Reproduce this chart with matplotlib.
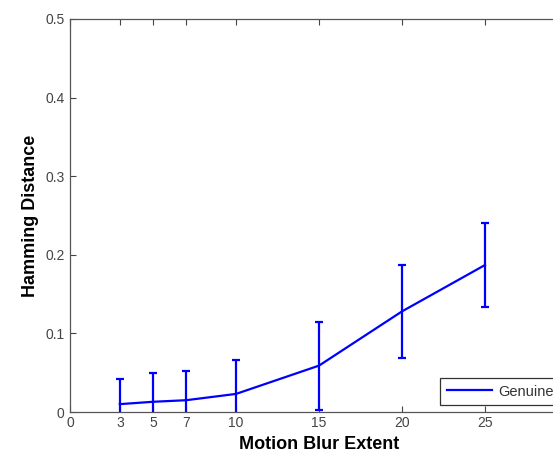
import matplotlib
matplotlib.use("Agg")
import matplotlib.pyplot as plt
from matplotlib.lines import Line2D

blur_extent = [3, 5, 7, 10, 15, 20, 25]
hamming_mean = [0.010, 0.013, 0.015, 0.023, 0.059, 0.128, 0.187]
hamming_err = [0.032, 0.037, 0.037, 0.043, 0.056, 0.059, 0.054]
x_ticks = [0, 3, 5, 7, 10, 15, 20, 25]
y_ticks = [0, 0.1, 0.2, 0.3, 0.4, 0.5]

plt.rcParams['font.family'] = ['Liberation Sans', 'DejaVu Sans']

W, H = 553, 454
fig = plt.figure(figsize=(W / 100, H / 100), dpi=100)
ax = fig.add_axes([70 / W, (H - 412) / H, 498 / W, 393 / H])

ax.errorbar(blur_extent, hamming_mean, yerr=hamming_err, color='#0000ff',
            linewidth=1.6, elinewidth=1.6, capsize=3, capthick=1.6)

ax.set_xlim(0, 30)
ax.set_ylim(0, 0.5)
ax.set_xticks(x_ticks)
ax.set_xticklabels([str(t) for t in x_ticks])
ax.set_yticks(y_ticks)
ax.set_yticklabels(['0', '0.1', '0.2', '0.3', '0.4', '0.5'])
ax.tick_params(direction='in', top=True, right=True, length=4, width=0.8,
               labelsize=10, colors='#444444', labelcolor='#444444', pad=4)
ax.tick_params(axis='x', pad=3)
for s in ax.spines.values():
    s.set_color('#555555')
    s.set_linewidth(0.9)

ax.set_xlabel('Motion Blur Extent', fontsize=13, fontweight='bold', labelpad=4)
ax.set_ylabel('Hamming Distance', fontsize=13, fontweight='bold', labelpad=4.5)

handle = Line2D([], [], color='#0000ff', linewidth=1.6)
leg = ax.legend([handle], ['Genuine'], loc='upper left',
                bbox_to_anchor=(440 / W, 1 - 378 / H),
                bbox_transform=fig.transFigure, fontsize=10.5, frameon=True,
                fancybox=False, edgecolor='#333333', framealpha=1,
                handlelength=3.1, handletextpad=0.45, borderpad=0.45,
                borderaxespad=0)
leg.get_frame().set_linewidth(0.9)
for t in leg.get_texts():
    t.set_color('#333333')

fig.savefig('out.png', dpi=100)
